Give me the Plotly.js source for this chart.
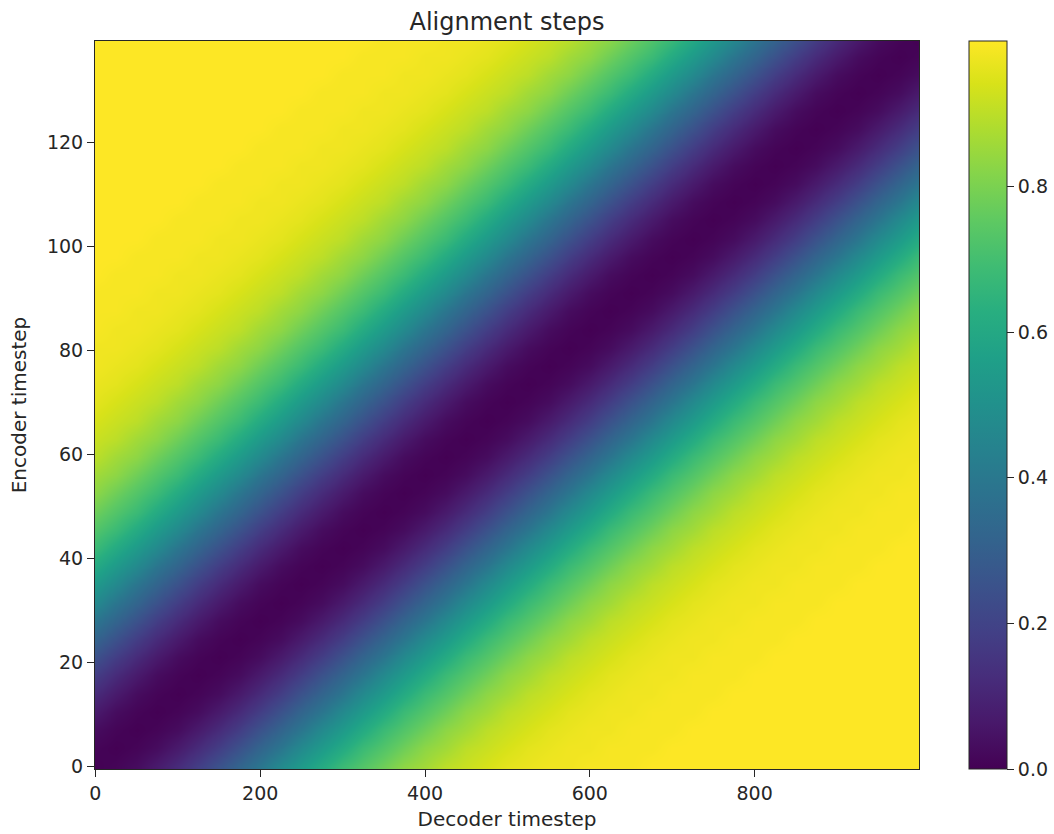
<!DOCTYPE html>
<html>
<head>
<meta charset="utf-8">
<script src="https://cdn.plot.ly/plotly-3.0.1.min.js"></script>
<style>html,body{margin:0;padding:0;background:#fff;}#chart{width:1054px;height:834px;}</style>
</head>
<body>
<div id="chart"></div>
<script>
// Sample positions at which the values were read (decoder timestep = x, encoder timestep = y)
const decoderSteps = [0,25,50,75,100,125,150,175,200,225,250,275,300,325,350,375,400,425,450,475,500,525,550,575,600,625,650,675,700,725,750,775,800,825,850,875,900,925,950,975,1000];
const encoderSteps = [0,3.5,7,10.5,14,17.5,21,24.5,28,31.5,35,38.5,42,45.5,49,52.5,56,59.5,63,66.5,70,73.5,77,80.5,84,87.5,91,94.5,98,101.5,105,108.5,112,115.5,119,122.5,126,129.5,133,136.5,140];

// Values, one row per encoder sample (bottom to top)
const r0  = [0,0.01,0.03,0.07,0.12,0.18,0.25,0.32,0.39,0.47,0.54,0.61,0.68,0.73,0.78,0.83,0.86,0.90,0.92,0.94,0.96,0.97,0.98,0.98,0.99,0.99,0.99,1,1,1,1,1,1,1,1,1,1,1,1,1,1];
const r1  = [0.01,0,0.01,0.03,0.07,0.12,0.18,0.25,0.32,0.39,0.47,0.54,0.61,0.68,0.73,0.78,0.83,0.86,0.90,0.92,0.94,0.96,0.97,0.98,0.98,0.99,0.99,0.99,1,1,1,1,1,1,1,1,1,1,1,1,1];
const r2  = [0.03,0.01,0,0.01,0.03,0.07,0.12,0.18,0.25,0.32,0.39,0.47,0.54,0.61,0.68,0.73,0.78,0.83,0.86,0.90,0.92,0.94,0.96,0.97,0.98,0.98,0.99,0.99,0.99,1,1,1,1,1,1,1,1,1,1,1,1];
const r3  = [0.07,0.03,0.01,0,0.01,0.03,0.07,0.12,0.18,0.25,0.32,0.39,0.47,0.54,0.61,0.68,0.73,0.78,0.83,0.86,0.90,0.92,0.94,0.96,0.97,0.98,0.98,0.99,0.99,0.99,1,1,1,1,1,1,1,1,1,1,1];
const r4  = [0.12,0.07,0.03,0.01,0,0.01,0.03,0.07,0.12,0.18,0.25,0.32,0.39,0.47,0.54,0.61,0.68,0.73,0.78,0.83,0.86,0.90,0.92,0.94,0.96,0.97,0.98,0.98,0.99,0.99,0.99,1,1,1,1,1,1,1,1,1,1];
const r5  = [0.18,0.12,0.07,0.03,0.01,0,0.01,0.03,0.07,0.12,0.18,0.25,0.32,0.39,0.47,0.54,0.61,0.68,0.73,0.78,0.83,0.86,0.90,0.92,0.94,0.96,0.97,0.98,0.98,0.99,0.99,0.99,1,1,1,1,1,1,1,1,1];
const r6  = [0.25,0.18,0.12,0.07,0.03,0.01,0,0.01,0.03,0.07,0.12,0.18,0.25,0.32,0.39,0.47,0.54,0.61,0.68,0.73,0.78,0.83,0.86,0.90,0.92,0.94,0.96,0.97,0.98,0.98,0.99,0.99,0.99,1,1,1,1,1,1,1,1];
const r7  = [0.32,0.25,0.18,0.12,0.07,0.03,0.01,0,0.01,0.03,0.07,0.12,0.18,0.25,0.32,0.39,0.47,0.54,0.61,0.68,0.73,0.78,0.83,0.86,0.90,0.92,0.94,0.96,0.97,0.98,0.98,0.99,0.99,0.99,1,1,1,1,1,1,1];
const r8  = [0.39,0.32,0.25,0.18,0.12,0.07,0.03,0.01,0,0.01,0.03,0.07,0.12,0.18,0.25,0.32,0.39,0.47,0.54,0.61,0.68,0.73,0.78,0.83,0.86,0.90,0.92,0.94,0.96,0.97,0.98,0.98,0.99,0.99,0.99,1,1,1,1,1,1];
const r9  = [0.47,0.39,0.32,0.25,0.18,0.12,0.07,0.03,0.01,0,0.01,0.03,0.07,0.12,0.18,0.25,0.32,0.39,0.47,0.54,0.61,0.68,0.73,0.78,0.83,0.86,0.90,0.92,0.94,0.96,0.97,0.98,0.98,0.99,0.99,0.99,1,1,1,1,1];
const r10 = [0.54,0.47,0.39,0.32,0.25,0.18,0.12,0.07,0.03,0.01,0,0.01,0.03,0.07,0.12,0.18,0.25,0.32,0.39,0.47,0.54,0.61,0.68,0.73,0.78,0.83,0.86,0.90,0.92,0.94,0.96,0.97,0.98,0.98,0.99,0.99,0.99,1,1,1,1];
const r11 = [0.61,0.54,0.47,0.39,0.32,0.25,0.18,0.12,0.07,0.03,0.01,0,0.01,0.03,0.07,0.12,0.18,0.25,0.32,0.39,0.47,0.54,0.61,0.68,0.73,0.78,0.83,0.86,0.90,0.92,0.94,0.96,0.97,0.98,0.98,0.99,0.99,0.99,1,1,1];
const r12 = [0.68,0.61,0.54,0.47,0.39,0.32,0.25,0.18,0.12,0.07,0.03,0.01,0,0.01,0.03,0.07,0.12,0.18,0.25,0.32,0.39,0.47,0.54,0.61,0.68,0.73,0.78,0.83,0.86,0.90,0.92,0.94,0.96,0.97,0.98,0.98,0.99,0.99,0.99,1,1];
const r13 = [0.73,0.68,0.61,0.54,0.47,0.39,0.32,0.25,0.18,0.12,0.07,0.03,0.01,0,0.01,0.03,0.07,0.12,0.18,0.25,0.32,0.39,0.47,0.54,0.61,0.68,0.73,0.78,0.83,0.86,0.90,0.92,0.94,0.96,0.97,0.98,0.98,0.99,0.99,0.99,1];
const r14 = [0.78,0.73,0.68,0.61,0.54,0.47,0.39,0.32,0.25,0.18,0.12,0.07,0.03,0.01,0,0.01,0.03,0.07,0.12,0.18,0.25,0.32,0.39,0.47,0.54,0.61,0.68,0.73,0.78,0.83,0.86,0.90,0.92,0.94,0.96,0.97,0.98,0.98,0.99,0.99,0.99];
const r15 = [0.83,0.78,0.73,0.68,0.61,0.54,0.47,0.39,0.32,0.25,0.18,0.12,0.07,0.03,0.01,0,0.01,0.03,0.07,0.12,0.18,0.25,0.32,0.39,0.47,0.54,0.61,0.68,0.73,0.78,0.83,0.86,0.90,0.92,0.94,0.96,0.97,0.98,0.98,0.99,0.99];
const r16 = [0.86,0.83,0.78,0.73,0.68,0.61,0.54,0.47,0.39,0.32,0.25,0.18,0.12,0.07,0.03,0.01,0,0.01,0.03,0.07,0.12,0.18,0.25,0.32,0.39,0.47,0.54,0.61,0.68,0.73,0.78,0.83,0.86,0.90,0.92,0.94,0.96,0.97,0.98,0.98,0.99];
const r17 = [0.90,0.86,0.83,0.78,0.73,0.68,0.61,0.54,0.47,0.39,0.32,0.25,0.18,0.12,0.07,0.03,0.01,0,0.01,0.03,0.07,0.12,0.18,0.25,0.32,0.39,0.47,0.54,0.61,0.68,0.73,0.78,0.83,0.86,0.90,0.92,0.94,0.96,0.97,0.98,0.98];
const r18 = [0.92,0.90,0.86,0.83,0.78,0.73,0.68,0.61,0.54,0.47,0.39,0.32,0.25,0.18,0.12,0.07,0.03,0.01,0,0.01,0.03,0.07,0.12,0.18,0.25,0.32,0.39,0.47,0.54,0.61,0.68,0.73,0.78,0.83,0.86,0.90,0.92,0.94,0.96,0.97,0.98];
const r19 = [0.94,0.92,0.90,0.86,0.83,0.78,0.73,0.68,0.61,0.54,0.47,0.39,0.32,0.25,0.18,0.12,0.07,0.03,0.01,0,0.01,0.03,0.07,0.12,0.18,0.25,0.32,0.39,0.47,0.54,0.61,0.68,0.73,0.78,0.83,0.86,0.90,0.92,0.94,0.96,0.97];
const r20 = [0.96,0.94,0.92,0.90,0.86,0.83,0.78,0.73,0.68,0.61,0.54,0.47,0.39,0.32,0.25,0.18,0.12,0.07,0.03,0.01,0,0.01,0.03,0.07,0.12,0.18,0.25,0.32,0.39,0.47,0.54,0.61,0.68,0.73,0.78,0.83,0.86,0.90,0.92,0.94,0.96];
const r21 = [0.97,0.96,0.94,0.92,0.90,0.86,0.83,0.78,0.73,0.68,0.61,0.54,0.47,0.39,0.32,0.25,0.18,0.12,0.07,0.03,0.01,0,0.01,0.03,0.07,0.12,0.18,0.25,0.32,0.39,0.47,0.54,0.61,0.68,0.73,0.78,0.83,0.86,0.90,0.92,0.94];
const r22 = [0.98,0.97,0.96,0.94,0.92,0.90,0.86,0.83,0.78,0.73,0.68,0.61,0.54,0.47,0.39,0.32,0.25,0.18,0.12,0.07,0.03,0.01,0,0.01,0.03,0.07,0.12,0.18,0.25,0.32,0.39,0.47,0.54,0.61,0.68,0.73,0.78,0.83,0.86,0.90,0.92];
const r23 = [0.98,0.98,0.97,0.96,0.94,0.92,0.90,0.86,0.83,0.78,0.73,0.68,0.61,0.54,0.47,0.39,0.32,0.25,0.18,0.12,0.07,0.03,0.01,0,0.01,0.03,0.07,0.12,0.18,0.25,0.32,0.39,0.47,0.54,0.61,0.68,0.73,0.78,0.83,0.86,0.90];
const r24 = [0.99,0.98,0.98,0.97,0.96,0.94,0.92,0.90,0.86,0.83,0.78,0.73,0.68,0.61,0.54,0.47,0.39,0.32,0.25,0.18,0.12,0.07,0.03,0.01,0,0.01,0.03,0.07,0.12,0.18,0.25,0.32,0.39,0.47,0.54,0.61,0.68,0.73,0.78,0.83,0.86];
const r25 = [0.99,0.99,0.98,0.98,0.97,0.96,0.94,0.92,0.90,0.86,0.83,0.78,0.73,0.68,0.61,0.54,0.47,0.39,0.32,0.25,0.18,0.12,0.07,0.03,0.01,0,0.01,0.03,0.07,0.12,0.18,0.25,0.32,0.39,0.47,0.54,0.61,0.68,0.73,0.78,0.83];
const r26 = [0.99,0.99,0.99,0.98,0.98,0.97,0.96,0.94,0.92,0.90,0.86,0.83,0.78,0.73,0.68,0.61,0.54,0.47,0.39,0.32,0.25,0.18,0.12,0.07,0.03,0.01,0,0.01,0.03,0.07,0.12,0.18,0.25,0.32,0.39,0.47,0.54,0.61,0.68,0.73,0.78];
const r27 = [1,0.99,0.99,0.99,0.98,0.98,0.97,0.96,0.94,0.92,0.90,0.86,0.83,0.78,0.73,0.68,0.61,0.54,0.47,0.39,0.32,0.25,0.18,0.12,0.07,0.03,0.01,0,0.01,0.03,0.07,0.12,0.18,0.25,0.32,0.39,0.47,0.54,0.61,0.68,0.73];
const r28 = [1,1,0.99,0.99,0.99,0.98,0.98,0.97,0.96,0.94,0.92,0.90,0.86,0.83,0.78,0.73,0.68,0.61,0.54,0.47,0.39,0.32,0.25,0.18,0.12,0.07,0.03,0.01,0,0.01,0.03,0.07,0.12,0.18,0.25,0.32,0.39,0.47,0.54,0.61,0.68];
const r29 = [1,1,1,0.99,0.99,0.99,0.98,0.98,0.97,0.96,0.94,0.92,0.90,0.86,0.83,0.78,0.73,0.68,0.61,0.54,0.47,0.39,0.32,0.25,0.18,0.12,0.07,0.03,0.01,0,0.01,0.03,0.07,0.12,0.18,0.25,0.32,0.39,0.47,0.54,0.61];
const r30 = [1,1,1,1,0.99,0.99,0.99,0.98,0.98,0.97,0.96,0.94,0.92,0.90,0.86,0.83,0.78,0.73,0.68,0.61,0.54,0.47,0.39,0.32,0.25,0.18,0.12,0.07,0.03,0.01,0,0.01,0.03,0.07,0.12,0.18,0.25,0.32,0.39,0.47,0.54];
const r31 = [1,1,1,1,1,0.99,0.99,0.99,0.98,0.98,0.97,0.96,0.94,0.92,0.90,0.86,0.83,0.78,0.73,0.68,0.61,0.54,0.47,0.39,0.32,0.25,0.18,0.12,0.07,0.03,0.01,0,0.01,0.03,0.07,0.12,0.18,0.25,0.32,0.39,0.47];
const r32 = [1,1,1,1,1,1,0.99,0.99,0.99,0.98,0.98,0.97,0.96,0.94,0.92,0.90,0.86,0.83,0.78,0.73,0.68,0.61,0.54,0.47,0.39,0.32,0.25,0.18,0.12,0.07,0.03,0.01,0,0.01,0.03,0.07,0.12,0.18,0.25,0.32,0.39];
const r33 = [1,1,1,1,1,1,1,0.99,0.99,0.99,0.98,0.98,0.97,0.96,0.94,0.92,0.90,0.86,0.83,0.78,0.73,0.68,0.61,0.54,0.47,0.39,0.32,0.25,0.18,0.12,0.07,0.03,0.01,0,0.01,0.03,0.07,0.12,0.18,0.25,0.32];
const r34 = [1,1,1,1,1,1,1,1,0.99,0.99,0.99,0.98,0.98,0.97,0.96,0.94,0.92,0.90,0.86,0.83,0.78,0.73,0.68,0.61,0.54,0.47,0.39,0.32,0.25,0.18,0.12,0.07,0.03,0.01,0,0.01,0.03,0.07,0.12,0.18,0.25];
const r35 = [1,1,1,1,1,1,1,1,1,0.99,0.99,0.99,0.98,0.98,0.97,0.96,0.94,0.92,0.90,0.86,0.83,0.78,0.73,0.68,0.61,0.54,0.47,0.39,0.32,0.25,0.18,0.12,0.07,0.03,0.01,0,0.01,0.03,0.07,0.12,0.18];
const r36 = [1,1,1,1,1,1,1,1,1,1,0.99,0.99,0.99,0.98,0.98,0.97,0.96,0.94,0.92,0.90,0.86,0.83,0.78,0.73,0.68,0.61,0.54,0.47,0.39,0.32,0.25,0.18,0.12,0.07,0.03,0.01,0,0.01,0.03,0.07,0.12];
const r37 = [1,1,1,1,1,1,1,1,1,1,1,0.99,0.99,0.99,0.98,0.98,0.97,0.96,0.94,0.92,0.90,0.86,0.83,0.78,0.73,0.68,0.61,0.54,0.47,0.39,0.32,0.25,0.18,0.12,0.07,0.03,0.01,0,0.01,0.03,0.07];
const r38 = [1,1,1,1,1,1,1,1,1,1,1,1,0.99,0.99,0.99,0.98,0.98,0.97,0.96,0.94,0.92,0.90,0.86,0.83,0.78,0.73,0.68,0.61,0.54,0.47,0.39,0.32,0.25,0.18,0.12,0.07,0.03,0.01,0,0.01,0.03];
const r39 = [1,1,1,1,1,1,1,1,1,1,1,1,1,0.99,0.99,0.99,0.98,0.98,0.97,0.96,0.94,0.92,0.90,0.86,0.83,0.78,0.73,0.68,0.61,0.54,0.47,0.39,0.32,0.25,0.18,0.12,0.07,0.03,0.01,0,0.01];
const r40 = [1,1,1,1,1,1,1,1,1,1,1,1,1,1,0.99,0.99,0.99,0.98,0.98,0.97,0.96,0.94,0.92,0.90,0.86,0.83,0.78,0.73,0.68,0.61,0.54,0.47,0.39,0.32,0.25,0.18,0.12,0.07,0.03,0.01,0];

const xTicks = [0,200,400,600,800];
const yTicks = [0,20,40,60,80,100,120];
const cbTicks = [0.0,0.2,0.4,0.6,0.8];

const zGrid = [r0,r1,r2,r3,r4,r5,r6,r7,r8,r9,r10,r11,r12,r13,r14,r15,r16,r17,r18,r19,r20,
               r21,r22,r23,r24,r25,r26,r27,r28,r29,r30,r31,r32,r33,r34,r35,r36,r37,r38,r39,r40];

const FONT = 'DejaVu Sans, sans-serif';
const INK = '#262626';
const trace = {
  type: 'heatmap',
  x: decoderSteps,
  y: encoderSteps,
  z: zGrid,
  zsmooth: 'best',
  colorscale: 'Viridis',
  zmin: 0, zmax: 1,
  hoverinfo: 'skip',
  colorbar: {
    x: 1.0607, xanchor: 'left', xref: 'paper',
    y: 0.5, yanchor: 'middle', len: 1, lenmode: 'fraction',
    thickness: 38, thicknessmode: 'pixels',
    outlinewidth: 1, outlinecolor: INK,
    tickvals: cbTicks, ticktext: cbTicks.map(v => v.toFixed(1)),
    ticks: 'outside', ticklen: 7, tickcolor: INK, tickwidth: 1,
    tickfont: {family: FONT, size: 19, color: INK},
    xpad: 0, ypad: 0
  }
};

const layout = {
  width: 1054, height: 834,
  margin: {l: 95, r: 135, t: 41, b: 65, autoexpand: false},
  paper_bgcolor: '#fff', plot_bgcolor: '#fff',
  font: {family: FONT, size: 19, color: INK},
  title: {text: 'Alignment steps', font: {family: FONT, size: 24, color: INK},
          xref: 'paper', x: 0.5, xanchor: 'center', yref: 'container', y: 1 - 22/834, yanchor: 'middle'},
  xaxis: {
    range: [-0.5, 999.5], tickvals: xTicks, ticktext: xTicks.map(String),
    ticks: 'outside', ticklen: 7, tickcolor: INK,
    showline: true, mirror: true, linecolor: INK, linewidth: 1,
    showgrid: false, zeroline: false, automargin: false,
    tickfont: {family: FONT, size: 19, color: INK},
    title: {text: 'Decoder timestep', font: {family: FONT, size: 20, color: INK}, standoff: 9}
  },
  yaxis: {
    range: [-0.5, 139.5], tickvals: yTicks, ticktext: yTicks.map(String),
    ticks: 'outside', ticklen: 7, tickcolor: INK,
    showline: true, mirror: true, linecolor: INK, linewidth: 1,
    showgrid: false, zeroline: false, automargin: false,
    tickfont: {family: FONT, size: 19, color: INK},
    title: {text: 'Encoder timestep', font: {family: FONT, size: 20, color: INK}, standoff: 14}
  }
};

Plotly.newPlot('chart', [trace], layout, {displayModeBar: false, staticPlot: true});
</script>
</body>
</html>
